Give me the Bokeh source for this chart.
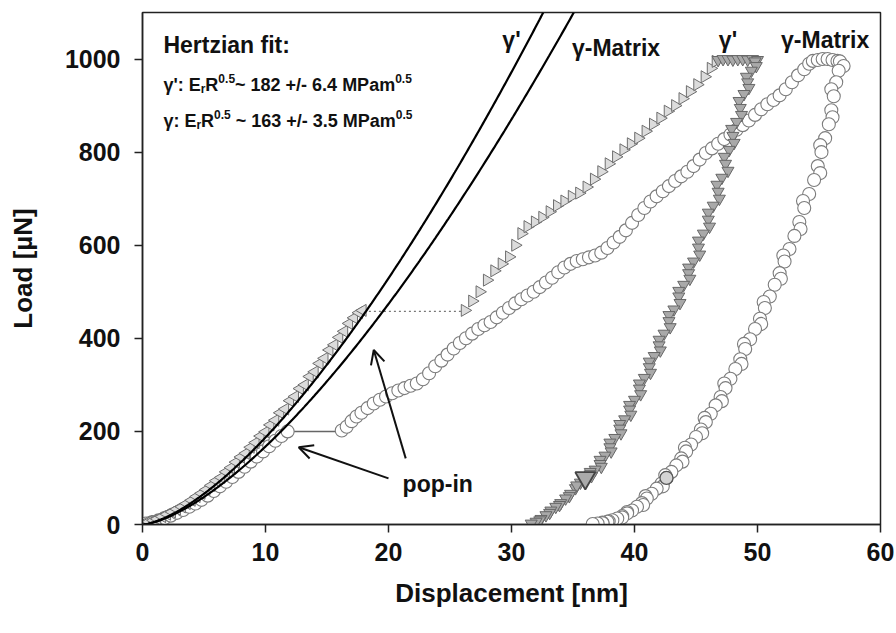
import numpy as np
from bokeh.plotting import figure
from bokeh.models import Range1d, Label, Arrow, OpenHead, FixedTicker
from bokeh.embed import file_html
from bokeh.resources import INLINE

# ---------------------------------------------------------------- data
# gamma-prime (triangles): elastic loading up to the pop-in
gp_load1_x = [0.2, 0.5, 0.9, 1.2, 1.6, 2.0, 2.4, 2.8, 3.2, 3.6, 4.0, 4.4, 4.8, 5.2, 5.6,
              6.0, 6.4, 6.8, 7.2, 7.6, 8.0, 8.4, 8.8, 9.2, 9.6, 10.0, 10.4, 10.8, 11.2,
              11.6, 12.0, 12.4, 12.8, 13.2, 13.6, 14.0, 14.4, 14.8, 15.2, 15.6, 16.0,
              16.4, 16.8, 17.2, 17.6, 17.9]
gp_load1_y = [4, 6, 9, 12, 17, 22, 27, 33, 38, 45, 52, 60, 67, 75, 84, 94, 101, 113, 122,
              134, 145, 153, 166, 176, 190, 199, 214, 224, 240, 248, 266, 275, 292, 300,
              318, 328, 346, 357, 375, 386, 402, 415, 432, 444, 455, 460]
# gamma-prime: loading after the pop-in
gp_load2_x = [26.2, 26.8, 27.4, 28.0, 28.6, 29.2, 29.8, 30.3, 30.8, 31.3, 31.9, 32.5, 33.1,
              33.7, 34.3, 34.9, 35.5, 36.1, 36.7, 37.3, 37.9, 38.5, 39.1, 39.7, 40.3, 40.9,
              41.5, 42.1, 42.7, 43.3, 43.9, 44.5, 45.1, 45.7, 46.2, 46.6]
gp_load2_y = [460, 480, 500, 525, 545, 560, 575, 600, 625, 640, 650, 660, 672, 685, 695,
              705, 712, 725, 742, 758, 775, 790, 805, 818, 830, 845, 860, 873, 888, 900,
              915, 930, 945, 962, 980, 995]
# gamma-prime: hold at peak load
gp_hold_x = [46.8, 47.2, 47.6, 48.0, 48.4, 48.8, 49.2, 49.6, 50.0]
gp_hold_y = [998, 1000, 1000, 999, 1000, 1000, 999, 1000, 998]
# gamma-prime: unloading
gp_unload_x = [49.8, 49.9, 49.5, 49.1, 49.2, 49.3, 48.9, 48.5, 48.6, 48.7, 48.3, 47.9, 48.0,
               48.1, 47.7, 47.3, 47.4, 47.6, 47.1, 46.7, 46.8, 46.9, 46.4, 46.0, 46.0, 46.1,
               45.6, 45.2, 45.2, 45.3, 44.8, 44.4, 44.4, 44.5, 44.0, 43.6, 43.6, 43.7, 43.2,
               42.8, 42.8, 42.9, 42.4, 42.0, 42.0, 42.1, 41.6, 41.2, 41.2, 41.3, 40.8, 40.4,
               40.4, 40.5, 40.0, 39.6, 39.6, 39.7, 39.2, 38.8, 38.8, 38.9, 38.4, 38.0, 38.0,
               38.1, 37.6, 37.2, 37.2, 37.3, 36.8, 36.4, 36.4, 36.5, 36.0, 35.6, 35.2, 35.3,
               34.8, 34.7, 34.4, 34.0, 33.9, 33.6, 33.2, 33.1, 32.8, 32.4, 32.3, 32.0, 31.6]
gp_unload_y = [995, 985, 975, 962, 950, 938, 925, 910, 895, 880, 865, 850, 835, 820, 805,
               790, 775, 760, 745, 730, 715, 700, 685, 670, 655, 640, 625, 610, 595, 580,
               565, 552, 540, 528, 515, 502, 490, 476, 462, 450, 437, 424, 410, 397, 385,
               374, 362, 350, 338, 326, 315, 303, 292, 280, 268, 257, 247, 236, 226, 216,
               206, 196, 186, 176, 166, 157, 148, 139, 130, 124, 118, 113, 108, 104, 100,
               90, 78, 84, 66, 61, 56, 46, 42, 38, 30, 25, 20, 12, 9, 6, 2]

# gamma matrix (circles): elastic loading up to the pop-in
gm_load1_x = [0.3, 0.8, 1.3, 1.8, 2.3, 2.8, 3.3, 3.8, 4.3, 4.8, 5.3, 5.8, 6.3, 6.8, 7.3,
              7.8, 8.3, 8.8, 9.3, 9.8, 10.3, 10.8, 11.3, 11.8]
gm_load1_y = [2, 5, 9, 14, 19, 25, 31, 38, 45, 53, 62, 72, 82, 92, 102, 113, 124, 135, 146,
              157, 168, 180, 190, 200]
# gamma matrix: loading after the pop-in
gm_load2_x = [16.2, 16.6, 17.0, 17.4, 17.8, 18.3, 18.8, 19.3, 19.8, 20.3, 20.8, 21.3, 21.8,
              22.3, 22.8, 23.3, 23.8, 24.3, 24.8, 25.3, 25.8, 26.3, 26.8, 27.3, 27.8, 28.3,
              28.8, 29.3, 29.8, 30.3, 30.8, 31.3, 31.8, 32.3, 32.8, 33.3, 33.8, 34.3, 34.8,
              35.3, 35.8, 36.3, 36.8, 37.3, 37.8, 38.3, 38.8, 39.3, 39.8, 40.3, 40.8, 41.3,
              41.8, 42.3, 42.8, 43.3, 43.8, 44.3, 44.8, 45.3, 45.8, 46.3, 46.8, 47.3, 47.8,
              48.3, 48.8, 49.3, 49.8, 50.3, 50.8, 51.3, 51.8, 52.3, 52.8, 53.3, 53.8, 54.2]
gm_load2_y = [202, 210, 222, 232, 240, 250, 260, 268, 275, 282, 288, 293, 298, 303, 312,
              325, 340, 352, 365, 378, 390, 400, 410, 420, 428, 435, 445, 455, 465, 475,
              484, 492, 500, 510, 520, 530, 542, 552, 560, 566, 570, 574, 578, 584, 594,
              606, 618, 632, 648, 665, 680, 694, 705, 716, 727, 738, 748, 758, 770, 784,
              798, 808, 818, 828, 838, 848, 858, 868, 880, 892, 903, 912, 922, 935, 950,
              965, 978, 990]
# gamma matrix: hold at peak load
gm_hold_x = [54.5, 54.9, 55.3, 55.7, 56.1, 56.5]
gm_hold_y = [996, 998, 1000, 1000, 998, 996]
# gamma matrix: unloading
gm_unload_x = [56.7, 57.0, 56.6, 56.4, 56.0, 56.2, 56.0, 56.1, 55.8, 55.5, 55.1, 55.2, 54.9,
               55.1, 54.6, 54.2, 53.7, 53.8, 53.4, 53.5, 53.0, 52.6, 52.1, 52.2, 51.8, 51.9,
               51.4, 51.0, 50.5, 50.6, 50.2, 50.3, 49.8, 49.4, 48.9, 49.0, 48.6, 48.7, 48.2,
               47.8, 47.3, 47.4, 47.0, 47.1, 46.6, 46.2, 45.7, 45.8, 45.4, 45.5, 45.0, 44.6,
               44.1, 44.2, 43.8, 43.9, 43.4, 43.0, 42.5, 42.6, 42.2, 42.3, 41.8, 41.4, 40.9,
               41.0, 40.6, 40.7, 40.2, 39.8, 39.4, 39.4, 39.0, 39.0, 38.6, 38.2, 37.9, 37.8,
               37.4, 37.4, 37.0, 36.6]
gm_unload_y = [995, 985, 975, 950, 935, 920, 890, 875, 860, 830, 815, 800, 770, 755, 740,
               710, 695, 680, 650, 635, 620, 592, 578, 565, 540, 528, 515, 490, 478, 465,
               442, 431, 420, 398, 388, 377, 355, 345, 334, 313, 303, 293, 274, 265, 256,
               238, 229, 220, 204, 196, 188, 172, 165, 157, 142, 135, 127, 113, 106, 100,
               88, 82, 77, 66, 61, 56, 46, 42, 38, 30, 27, 24, 18, 15, 13, 9, 7, 6, 4, 3,
               2, 1]

# pop-in excursions (start / end of the displacement burst)
gp_popin_x = [18.0, 26.0]
gp_popin_y = [458, 458]
gm_popin_x = [11.9, 16.0]
gm_popin_y = [200, 200]

# Hertzian fits: P = C * (E_r R^0.5) * h^1.5
fit_names = ["γ'", "γ"]
fit_ErR = [182, 163]          # MPa m^0.5
fit_err = [6.4, 3.5]
fit_C = 0.0325                # converts E_r R^0.5 to µN / nm^1.5

x_ticks = [0, 10, 20, 30, 40, 50, 60]
y_ticks = [0, 200, 400, 600, 800, 1000]

# ---------------------------------------------------------------- figure
FONT = "Liberation Sans"
INK = "#111111"

p = figure(width=896, height=633, output_backend="svg", toolbar_location=None,
           x_range=Range1d(0, 60), y_range=Range1d(0, 1100),
           min_border_left=142, min_border_right=16, min_border_top=12,
           min_border_bottom=109)
p.background_fill_color = "white"
p.border_fill_color = "white"
p.outline_line_color = "#222222"
p.outline_line_width = 1.5
p.xgrid.visible = False
p.ygrid.visible = False

for ax in (p.xaxis[0], p.yaxis[0]):
    ax.axis_line_color = "#222222"
    ax.axis_line_width = 1.5
    ax.major_tick_line_color = "#222222"
    ax.major_tick_line_width = 1.5
    ax.major_tick_out = 8
    ax.major_tick_in = 0
    ax.minor_tick_line_color = None
    ax.major_label_text_font = FONT
    ax.major_label_text_font_style = "bold"
    ax.major_label_text_font_size = "25px"
    ax.major_label_text_color = INK
    ax.axis_label_text_font = FONT
    ax.axis_label_text_font_style = "bold"
    ax.axis_label_text_font_size = "26px"
    ax.axis_label_text_color = INK

p.xaxis.ticker = FixedTicker(ticks=x_ticks)
p.yaxis.ticker = FixedTicker(ticks=y_ticks)
p.xaxis.axis_label = "Displacement [nm]"
p.yaxis.axis_label = "Load [µN]"
p.xaxis.major_label_standoff = 10
p.yaxis.major_label_standoff = 14
p.xaxis.axis_label_standoff = 14
p.yaxis.axis_label_standoff = 24

# pop-in connectors
p.line(gp_popin_x, gp_popin_y, line_color="#777777", line_width=1.3, line_dash="2 3")
p.line(gm_popin_x, gm_popin_y, line_color="#666666", line_width=1.5)

# gamma matrix circles
circ = dict(marker="circle", size=13, fill_color="white", line_color="#7c7c7c", line_width=1.1)
p.scatter(gm_load1_x, gm_load1_y, **circ)
p.scatter(gm_load2_x, gm_load2_y, **circ)
p.scatter(gm_hold_x, gm_hold_y, **circ)
p.scatter(gm_unload_x, gm_unload_y, **circ)

# gamma-prime triangles
tri_load = dict(size=12, fill_color="#dcdcdc", line_color="#6e6e6e", line_width=1.0)
p.scatter(gp_load1_x, gp_load1_y, marker="triangle", angle=np.pi / 2, **tri_load)
p.scatter(gp_load2_x, gp_load2_y, marker="triangle", angle=-np.pi / 2, **tri_load)
tri_unload = dict(size=12, fill_color="#a9a9a9", line_color="#666666", line_width=1.0)
p.scatter(gp_hold_x, gp_hold_y, marker="inverted_triangle", **tri_unload)
p.scatter(gp_unload_x, gp_unload_y, marker="inverted_triangle", **tri_unload)

# highlighted unloading points near 100 µN
i_gp = gp_unload_y.index(100)
i_gm = gm_unload_y.index(100)
p.scatter([gp_unload_x[i_gp]], [gp_unload_y[i_gp]], marker="inverted_triangle", size=20,
          fill_color="#aaaaaa", line_color="#444444", line_width=1.8)
p.scatter([gm_unload_x[i_gm]], [gm_unload_y[i_gm]], marker="circle", size=13,
          fill_color="#d4d4d4", line_color="#555555", line_width=1.3)

# Hertzian fit curves
for ErR in fit_ErR:
    k = fit_C * ErR
    h = np.linspace(0, (1100 / k) ** (2 / 3), 300)
    p.line(h, k * h ** 1.5, line_color="black", line_width=2.2)


# curve labels
def put(x, y, text, size="23px", align="center"):
    p.add_layout(Label(x=x, y=y, text=text, text_font=FONT, text_font_style="bold",
                       text_font_size=size, text_align=align, text_baseline="middle",
                       text_color=INK))


put(30.0, 1041, "γ'")
put(38.5, 1024, "γ-Matrix")
put(47.6, 1041, "γ'")
put(55.5, 1041, "γ-Matrix")
put(24.0, 88, "pop-in")

# pop-in arrows
for xs, ys, xe, ye in [(20.0, 99, 12.7, 166), (21.4, 142, 18.8, 375)]:
    p.add_layout(Arrow(x_start=xs, y_start=ys, x_end=xe, y_end=ye,
                       line_width=2, line_color=INK,
                       end=OpenHead(size=14, line_width=2, line_color=INK)))

# Hertzian fit annotation with sub- and superscripts
ADV = {" ": 278, "\u00a0": 278, "'": 238, ":": 333, "E": 667, "r": 389, "R": 722,
       ".": 278, "~": 584, "+": 584, "/": 278, "-": 333, "M": 833, "P": 667, "a": 556,
       "m": 889, "γ": 556}


def text_width(s, size):
    return sum(ADV.get(c, 556) for c in s) * size / 1000.0


def rich_line(x, y, pieces, size=18):
    off = 0.0
    small = round(size * 0.65)
    for txt, kind in pieces:
        fs = size if kind == "n" else small
        dy = {"n": 0, "sub": -4, "sup": 7}[kind]
        p.add_layout(Label(x=x, y=y, x_offset=off, y_offset=dy, text=txt, text_font=FONT,
                           text_font_style="bold", text_font_size=f"{fs}px",
                           text_baseline="alphabetic", text_align="left",
                           text_color=INK))
        off += text_width(txt, fs)


put(1.7, 1030, "Hertzian fit:", size="23px", align="left")
rich_line(1.7, 944, [(f"{fit_names[0]}: E", "n"), ("r", "sub"), ("R", "n"), ("0.5", "sup"),
                     (f"~ {fit_ErR[0]} +/- {fit_err[0]} MPam", "n"), ("0.5", "sup")])
rich_line(1.7, 866, [(f"{fit_names[1]}: E", "n"), ("r", "sub"), ("R", "n"), ("0.5", "sup"),
                     (f"\u00a0~ {fit_ErR[1]} +/- {fit_err[1]} MPam", "n"), ("0.5", "sup")])

open("out.html", "w").write(file_html(p, INLINE))
